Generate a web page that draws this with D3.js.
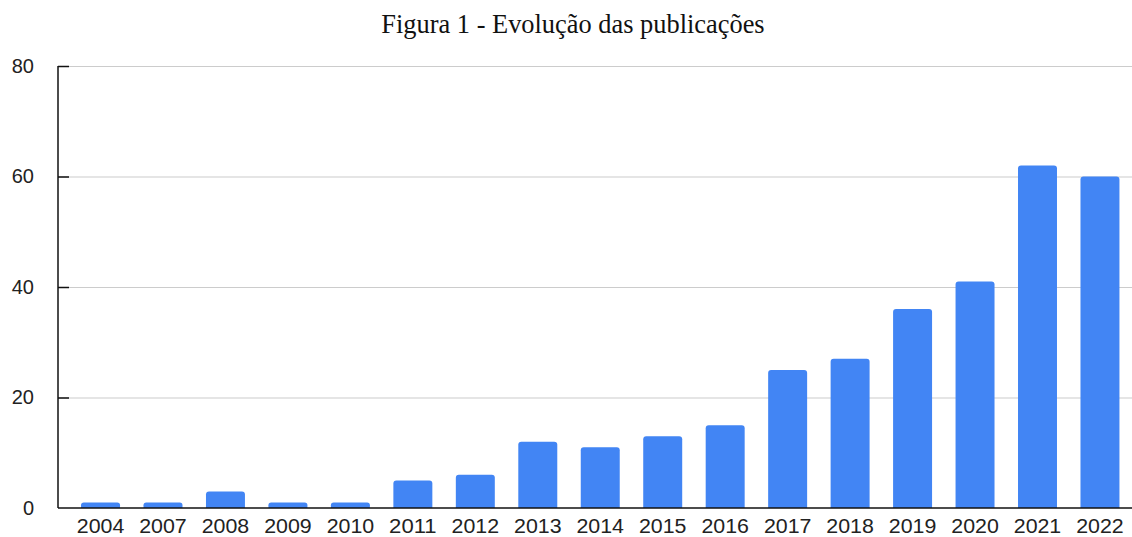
<!DOCTYPE html>
<html>
<head>
<meta charset="utf-8">
<script src="https://cdn.jsdelivr.net/npm/d3@7"></script>
<style>
  html, body { margin: 0; padding: 0; background: #fff; overflow: hidden; }
  svg { display: block; }
</style>
</head>
<body>
<svg id="chart" width="1132" height="537"></svg>
<script>
// Publications per year
const years = ["2004","2007","2008","2009","2010","2011","2012","2013","2014","2015","2016","2017","2018","2019","2020","2021","2022"];
const counts = [1, 1, 3, 1, 1, 5, 6, 12, 11, 13, 15, 25, 27, 36, 41, 62, 60];
const yTicks = [0, 20, 40, 60, 80];
const title = "Figura 1 - Evolução das publicações";

const svg = d3.select("#chart");
const W = 1132;
const axisX = 58, yTop = 66, yBase = 508;

const x = d3.scaleBand()
  .domain(years)
  .range([69.3, 1131.2])
  .paddingInner(0.376)
  .paddingOuter(0.188);

const y = d3.scaleLinear().domain([0, 80]).range([yBase, yTop]);

// title
svg.append("text")
  .attr("x", 573).attr("y", 33)
  .attr("text-anchor", "middle")
  .attr("font-family", "'Liberation Serif', 'Times New Roman', serif")
  .attr("font-size", 26.4)
  .attr("fill", "#111")
  .text(title);

// horizontal gridlines
svg.append("g").selectAll("line")
  .data(yTicks.filter(d => d > 0))
  .join("line")
  .attr("x1", axisX).attr("x2", W)
  .attr("y1", d => y(d) + 0.5).attr("y2", d => y(d) + 0.5)
  .attr("stroke", "#cccccc").attr("stroke-width", 1.2);

// bars with rounded tops
const r = 3;
svg.append("g").selectAll("path")
  .data(years.map((yr, i) => ({ yr, v: counts[i] })))
  .join("path")
  .attr("fill", "#4285f4")
  .attr("d", d => {
    const x0 = x(d.yr), w = x.bandwidth(), top = y(d.v), bot = y(0);
    const rr = Math.min(r, (bot - top) / 2);
    return `M${x0},${bot}V${top + rr}Q${x0},${top} ${x0 + rr},${top}H${x0 + w - rr}Q${x0 + w},${top} ${x0 + w},${top + rr}V${bot}Z`;
  });

// y axis with ticks crossing the axis line
const yAxis = d3.axisLeft(y).tickValues(yTicks).tickSize(12).tickPadding(12);
const gy = svg.append("g").attr("transform", `translate(${axisX},0)`).call(yAxis);
gy.select(".domain").remove();
gy.selectAll(".tick line").attr("x2", d => d === 0 ? 0 : 11).attr("stroke", "#111").attr("stroke-width", 1.5);
gy.selectAll(".tick text")
  .attr("font-family", "'Liberation Sans', Arial, sans-serif")
  .attr("font-size", 20)
  .attr("fill", "#222");
svg.append("line")
  .attr("x1", axisX).attr("x2", axisX)
  .attr("y1", yTop).attr("y2", yBase)
  .attr("stroke", "#111").attr("stroke-width", 1.5);

// baseline and x axis labels
const xAxis = d3.axisBottom(x).tickSize(0).tickPadding(0);
const gx = svg.append("g").attr("transform", `translate(0,${yBase})`).call(xAxis);
gx.select(".domain").remove();
gx.selectAll(".tick text")
  .attr("dy", null)
  .attr("y", 24.5)
  .attr("font-family", "'Liberation Sans', Arial, sans-serif")
  .attr("font-size", 20)
  .attr("textLength", 47.5)
  .attr("lengthAdjust", "spacingAndGlyphs")
  .attr("fill", "#222");
svg.append("line")
  .attr("x1", axisX).attr("x2", W)
  .attr("y1", yBase).attr("y2", yBase)
  .attr("stroke", "#111").attr("stroke-width", 1.5);
</script>
</body>
</html>
